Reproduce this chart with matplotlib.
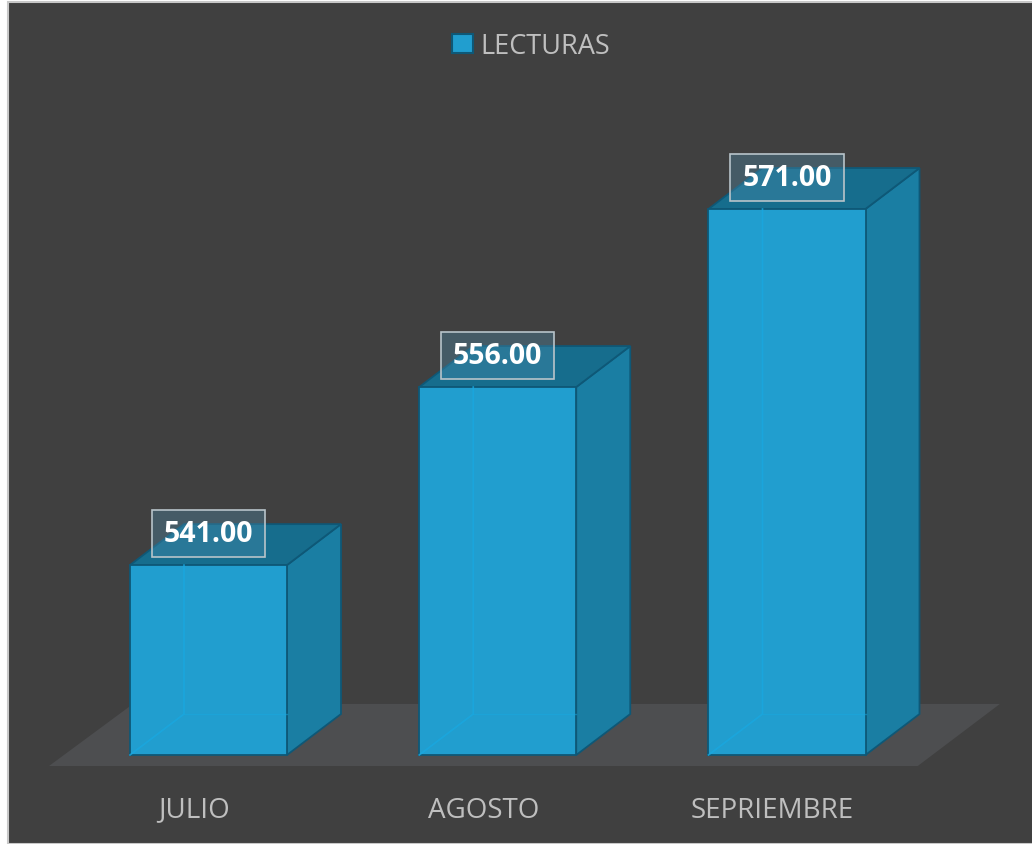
import numpy as np
import matplotlib
matplotlib.use("Agg")
import matplotlib.pyplot as plt
from matplotlib.patches import Polygon, Rectangle, Patch

plt.rcParams['font.family'] = ['Open Sans', 'DejaVu Sans']

# data
meses = ['JULIO', 'AGOSTO', 'SEPRIEMBRE']
lecturas = [541.00, 556.00, 571.00]
serie = 'LECTURAS'

# colours
bg = '#404040'
floor_c = '#4d4e50'
front_c = '#219ecf'
side_c = '#1a7ea3'
top_c = '#166d8d'
edge_c = '#0e5877'
txt_c = '#bfbfbf'

fig = plt.figure(figsize=(10.32, 8.45), dpi=100, facecolor='white')
fig.patches.append(Rectangle((8 / 1032, 0), 1, 1 - 3 / 845, transform=fig.transFigure,
                             facecolor=bg, edgecolor='#c8c8c8', linewidth=1.5, zorder=-10))

ax = fig.add_axes([0, 0, 1, 1])
ax.set_xlim(-0.7208, 2.847)
ax.set_ylim(517.5, 588.69)
ax.axis('off')

base = 525.0
w = 0.5428      # bar width (category units)
dx = 0.1867     # depth offset x
dy = 3.45       # depth offset y (value units)

# floor
floor = Polygon([(-0.5514, 524.07), (2.452, 524.07), (2.736, 529.30), (-0.261, 529.30)],
                closed=True, facecolor=floor_c, edgecolor='none', zorder=1)
ax.add_patch(floor)

xs = np.arange(len(meses))
for i, (x, v) in enumerate(zip(xs, lecturas)):
    l, r = x - w / 2, x + w / 2
    side = Polygon([(r, base), (r + dx, base + dy), (r + dx, v + dy), (r, v)],
                   facecolor=side_c, edgecolor=edge_c, linewidth=1.3, zorder=2)
    top = Polygon([(l, v), (r, v), (r + dx, v + dy), (l + dx, v + dy)],
                  facecolor=top_c, edgecolor=edge_c, linewidth=1.3, zorder=2)
    front = Polygon([(l, base), (r, base), (r, v), (l, v)],
                    facecolor=front_c, edgecolor=edge_c, linewidth=1.3, zorder=3)
    ax.add_patch(side)
    ax.add_patch(top)
    ax.add_patch(front)
    # hidden back edges seen through the bar
    ax.plot([l, l + dx, l + dx], [base, base + dy, v], color='#19a8e0', lw=1.2, alpha=0.8, zorder=4)
    ax.plot([l + dx, r], [base + dy, base + dy], color='#19a8e0', lw=1, alpha=0.5, zorder=4)

    # value label
    cy = v + 2.65
    bw, bh = 0.3907, 3.96
    ax.add_patch(Rectangle((x - bw / 2, cy - bh / 2), bw, bh, facecolor='#4f8fae', alpha=0.35,
                           edgecolor='none', zorder=5))
    ax.add_patch(Rectangle((x - bw / 2, cy - bh / 2), bw, bh, facecolor='none',
                           edgecolor='#b8c4ca', linewidth=1.2, zorder=6))
    ax.text(x, cy, f'{v:.2f}', ha='center', va='center', color='white',
            fontsize=20.5, fontweight='bold', zorder=7)

    ax.text(x - 0.05, 520.4, meses[i], ha='center', va='center',
            color=txt_c, fontsize=20, zorder=7)

fig.legend(handles=[Patch(facecolor=front_c, edgecolor=edge_c, linewidth=1.5, label=serie)],
           loc='center', bbox_to_anchor=(531.5 / 1032, 1 - 47 / 845), frameon=False,
           handlelength=0.75, handleheight=0.75, handletextpad=0.3, fontsize=19.5,
           labelcolor=txt_c)

fig.savefig('out.png', dpi=100, facecolor=fig.get_facecolor())
